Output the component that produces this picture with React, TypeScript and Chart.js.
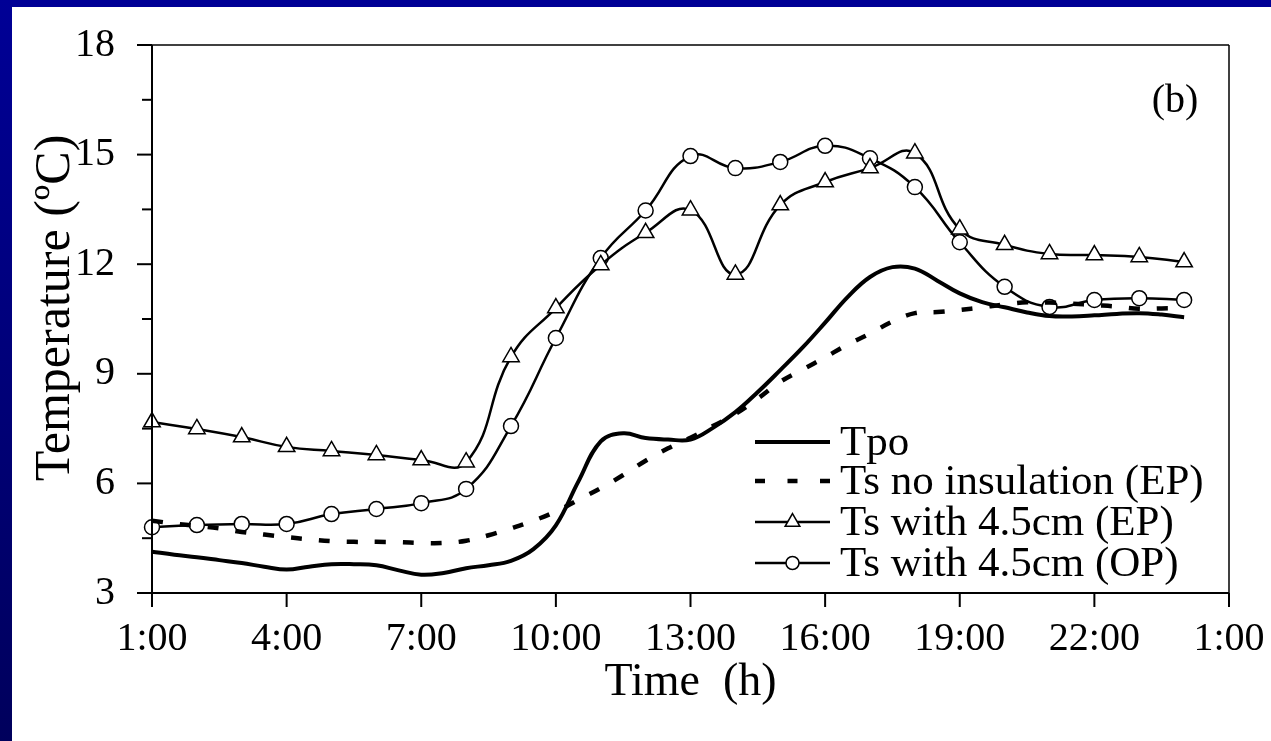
import React, { useEffect, useRef } from 'react';
import { Chart, registerables } from 'chart.js';

Chart.register(...registerables);

const FONT = "'Liberation Serif', 'Times New Roman', serif";

// ---- data ----
const hourX = [1, 2, 3, 4, 5, 6, 7, 8, 9, 10, 11, 12, 13, 14, 15, 16, 17, 18, 19, 20, 21, 22, 23, 24];
const halfHourX = [
  1, 1.5, 2, 2.5, 3, 3.5, 4, 4.5, 5, 5.5, 6, 6.5, 7, 7.5, 8, 8.5, 9, 9.5, 10, 10.5, 11, 11.5,
  12, 12.5, 13, 13.5, 14, 14.5, 15, 15.5, 16, 16.5, 17, 17.5, 18, 18.5, 19, 19.5, 20, 20.5,
  21, 21.5, 22, 22.5, 23, 23.5, 24,
];
const tpo = [
  4.13, 4.05, 3.98, 3.9, 3.82, 3.72, 3.64, 3.72, 3.79, 3.79, 3.76, 3.62, 3.5, 3.55, 3.68, 3.76,
  3.88, 4.2, 4.85, 6.05, 7.15, 7.37, 7.24, 7.2, 7.2, 7.52, 7.95, 8.5, 9.1, 9.72, 10.4, 11.1,
  11.65, 11.92, 11.88, 11.55, 11.2, 10.96, 10.82, 10.68, 10.58, 10.57, 10.6, 10.64, 10.66,
  10.62, 10.55,
];
const tsNoInsulationEP = [
  4.98, 4.9, 4.84, 4.77, 4.67, 4.6, 4.53, 4.47, 4.42, 4.4, 4.4, 4.39, 4.37, 4.37, 4.43, 4.58,
  4.77, 4.98, 5.23, 5.55, 5.87, 6.23, 6.62, 6.96, 7.25, 7.57, 7.9, 8.32, 8.78, 9.12, 9.45, 9.8,
  10.1, 10.43, 10.66, 10.69, 10.75, 10.82, 10.9, 10.96, 10.95, 10.92, 10.88, 10.84, 10.78,
  10.79, 10.8,
];
const tsWith45EP = [
  7.68, 7.49, 7.27, 7.0, 6.89, 6.78, 6.64, 6.58, 9.46, 10.8, 11.98, 12.86, 13.48, 11.72, 13.62,
  14.25, 14.63, 15.04, 12.96, 12.53, 12.28, 12.25, 12.2, 12.06,
];
const tsWith45OP = [
  4.8, 4.86, 4.89, 4.89, 5.16, 5.3, 5.46, 5.85, 7.57, 9.98, 12.17, 13.47, 14.96, 14.63, 14.8,
  15.24, 14.9, 14.11, 12.6, 11.38, 10.83, 11.02, 11.07, 11.02,
];
const seriesLabels = ['Tpo', 'Ts no insulation (EP)', 'Ts with 4.5cm (EP)', 'Ts with 4.5cm (OP)'];
const xTickValues = [1, 4, 7, 10, 13, 16, 19, 22, 25];
const xTickLabels = ['1:00', '4:00', '7:00', '10:00', '13:00', '16:00', '19:00', '22:00', '1:00'];
const yTickValues = [3, 6, 9, 12, 15, 18];
const yMinorTickValues = [4.5, 7.5, 10.5, 13.5, 16.5];
const xTitle = 'Time  (h)';
const yTitle = 'Temperature (ºC)';
const panelLabel = '(b)';

const toXY = (xs: number[], ys: number[]) => xs.map((x, i) => ({ x, y: ys[i] }));

const decorPlugin = {
  id: 'decor',
  afterDraw(chart: any) {
    const { ctx, chartArea: a, scales } = chart;
    const xs = scales.x;
    const ys = scales.y;
    ctx.save();
    ctx.strokeStyle = '#000';
    ctx.lineCap = 'butt';
    const seg = (x1: number, y1: number, x2: number, y2: number, w: number) => {
      ctx.lineWidth = w;
      ctx.beginPath();
      ctx.moveTo(x1, y1);
      ctx.lineTo(x2, y2);
      ctx.stroke();
    };
    // frame top/right
    seg(a.left, a.top, a.right, a.top, 1.5);
    seg(a.right, a.top, a.right, a.bottom, 1.5);
    // axes
    seg(a.left, a.top, a.left, a.bottom + 1, 2);
    seg(a.left - 1, a.bottom, a.right, a.bottom, 2);
    // y ticks
    yTickValues.forEach((v) => {
      const py = ys.getPixelForValue(v);
      seg(a.left - 15, py, a.left, py, 2);
    });
    yMinorTickValues.forEach((v) => {
      const py = ys.getPixelForValue(v);
      seg(a.left - 10, py, a.left, py, 2);
    });
    // x ticks
    xTickValues.forEach((v) => {
      const px = xs.getPixelForValue(v);
      seg(px, a.bottom, px, a.bottom + 14, 2);
    });
    ctx.fillStyle = '#000';
    // y title
    ctx.save();
    ctx.translate(44, a.top + 263);
    ctx.rotate(-Math.PI / 2);
    ctx.font = `50px ${FONT}`;
    ctx.textAlign = 'center';
    ctx.textBaseline = 'middle';
    ctx.fillText(yTitle, 0, 0);
    ctx.restore();
    // panel label
    ctx.font = `40px ${FONT}`;
    ctx.textAlign = 'center';
    ctx.textBaseline = 'middle';
    ctx.fillText(panelLabel, a.right - 54, a.top + 56);

    // legend
    const ds = chart.data.datasets;
    const rowOffsets = [151, 112, 71, 30];
    const x0 = a.left + 603;
    const x1 = a.left + 678;
    const tx = a.left + 688;
    ds.forEach((d: any, i: number) => {
      const ry = a.bottom - rowOffsets[i];
      ctx.save();
      ctx.strokeStyle = '#000';
      ctx.lineWidth = d.borderWidth;
      if (d.borderDash && d.borderDash.length) {
        ctx.setLineDash([10, 22.5]);
        ctx.lineWidth = 4.5;
      }
      ctx.beginPath();
      ctx.moveTo(x0, ry);
      ctx.lineTo(x1, ry);
      ctx.stroke();
      ctx.setLineDash([]);
      const mx = (x0 + x1) / 2;
      if (d.pointStyle === 'triangle') {
        const r = 8.5;
        ctx.fillStyle = '#fff';
        ctx.lineWidth = 1.5;
        ctx.beginPath();
        ctx.moveTo(mx, ry - r);
        ctx.lineTo(mx + r * 0.866, ry + r * 0.5);
        ctx.lineTo(mx - r * 0.866, ry + r * 0.5);
        ctx.closePath();
        ctx.fill();
        ctx.stroke();
      } else if (d.pointStyle === 'circle' && d.pointRadius > 0) {
        ctx.fillStyle = '#fff';
        ctx.lineWidth = 1.5;
        ctx.beginPath();
        ctx.arc(mx, ry, 6.5, 0, Math.PI * 2);
        ctx.fill();
        ctx.stroke();
      }
      ctx.restore();
      ctx.fillStyle = '#000';
      ctx.font = `43px ${FONT}`;
      ctx.textAlign = 'left';
      ctx.textBaseline = 'alphabetic';
      ctx.fillText(d.label, tx, ry + 13);
    });
    ctx.restore();
  },
};

export default function App() {
  const ref = useRef<HTMLCanvasElement | null>(null);

  useEffect(() => {
    document.body.style.margin = '0';
    const canvas = ref.current;
    if (!canvas) return;
    Chart.defaults.font.family = FONT;
    Chart.defaults.color = '#000';

    const chart = new Chart(canvas, {
      type: 'line',
      data: {
        datasets: [
          {
            label: seriesLabels[0],
            data: toXY(halfHourX, tpo),
            borderColor: '#000',
            borderWidth: 4,
            pointRadius: 0,
            tension: 0.4,
            fill: false,
            borderJoinStyle: 'round',
            clip: false,
          },
          {
            label: seriesLabels[1],
            data: toXY(halfHourX, tsNoInsulationEP),
            borderColor: '#000',
            borderWidth: 4.5,
            borderDash: [11, 17],
            pointRadius: 0,
            tension: 0.4,
            fill: false,
            clip: false,
          },
          {
            label: seriesLabels[2],
            data: toXY(hourX, tsWith45EP),
            borderColor: '#000',
            borderWidth: 2.5,
            pointStyle: 'triangle',
            pointRadius: 9.5,
            pointBorderWidth: 1.5,
            pointBackgroundColor: '#fff',
            pointBorderColor: '#000',
            tension: 0.45,
            fill: false,
            clip: false,
          },
          {
            label: seriesLabels[3],
            data: toXY(hourX, tsWith45OP),
            borderColor: '#000',
            borderWidth: 2.5,
            pointStyle: 'circle',
            pointRadius: 7.5,
            pointBorderWidth: 1.5,
            pointBackgroundColor: '#fff',
            pointBorderColor: '#000',
            tension: 0.45,
            fill: false,
            clip: false,
          },
        ],
      },
      options: {
        animation: false,
        responsive: true,
        maintainAspectRatio: false,
        events: [],
        layout: { padding: { top: 38, right: 42, bottom: 0, left: 0 } },
        plugins: {
          legend: { display: false },
          tooltip: { enabled: false },
        },
        scales: {
          x: {
            type: 'linear',
            min: 1,
            max: 25,
            afterBuildTicks: (s: any) => {
              s.ticks = xTickValues.map((v) => ({ value: v }));
            },
            afterFit: (s: any) => {
              s.height = 148;
              s.paddingLeft = 0;
              s.paddingRight = 0;
            },
            ticks: {
              callback: (_v: any, i: number) => xTickLabels[i],
              font: { size: 40, family: FONT },
              color: '#000',
              padding: 8,
              maxRotation: 0,
              autoSkip: false,
            },
            grid: { display: false, drawTicks: true, tickLength: 14 },
            border: { display: false },
            title: {
              display: true,
              text: xTitle,
              color: '#000',
              font: { size: 46, family: FONT, lineHeight: 1.2 },
              padding: { top: 0, bottom: 30 },
            },
          },
          y: {
            type: 'linear',
            min: 3,
            max: 18,
            afterBuildTicks: (s: any) => {
              s.ticks = yTickValues.map((v) => ({ value: v }));
            },
            afterFit: (s: any) => {
              s.width = 140;
              s.paddingTop = 0;
              s.paddingBottom = 0;
            },
            ticks: {
              callback: (v: any) => String(v),
              font: { size: 40, family: FONT },
              color: '#000',
              padding: 22,
            },
            grid: { display: false, drawTicks: true, tickLength: 15 },
            border: { display: false },
            title: { display: false },
          },
        },
      },
      plugins: [decorPlugin],
    });
    return () => chart.destroy();
  }, []);

  return (
    <div
      style={{
        position: 'fixed',
        left: 0,
        top: 0,
        width: 1271,
        height: 741,
        background: 'linear-gradient(to bottom, #000096, #00005c)',
        overflow: 'hidden',
      }}
    >
      <div
        style={{
          position: 'absolute',
          left: 12,
          top: 7,
          width: 1259,
          height: 734,
          background: '#fff',
        }}
      >
        <canvas ref={ref} style={{ display: 'block' }} />
      </div>
    </div>
  );
}
